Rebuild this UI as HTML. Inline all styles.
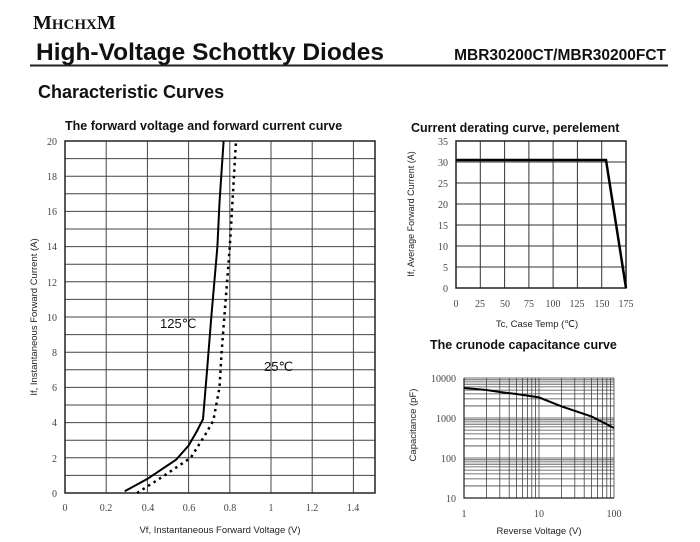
<!DOCTYPE html>
<html><head><meta charset="utf-8"><style>
body{margin:0;background:#fff;width:700px;height:542px;overflow:hidden}
svg{display:block}
.s{font-family:"Liberation Sans",sans-serif}
.r{font-family:"Liberation Serif",serif;font-size:10px;fill:#444}
</style></head><body>
<svg width="700" height="542" viewBox="0 0 700 542">
<text x="33" y="29" font-family="Liberation Serif,serif" font-weight="bold" font-size="20" fill="#111">M<tspan font-size="15">HCHX</tspan>M</text>
<text x="36" y="60" class="s" font-weight="bold" font-size="24.5" fill="#111">High-Voltage Schottky Diodes</text>
<text x="666" y="60" class="s" font-weight="bold" font-size="15.5" fill="#111" text-anchor="end">MBR30200CT/MBR30200FCT</text>
<line x1="30" y1="65.5" x2="668" y2="65.5" stroke="#222" stroke-width="2"/>
<text x="38" y="98" class="s" font-weight="bold" font-size="18" fill="#111">Characteristic Curves</text>

<text x="65" y="130" class="s" font-weight="bold" font-size="12.5" fill="#111">The forward voltage and forward current curve</text>
<g stroke="#444" stroke-width="1">
<path d="M65 158.6H375M65 176.2H375M65 193.8H375M65 211.4H375M65 229H375M65 246.6H375M65 264.2H375M65 281.8H375M65 299.4H375M65 317H375M65 334.6H375M65 352.2H375M65 369.8H375M65 387.4H375M65 405H375M65 422.6H375M65 440.2H375M65 457.8H375M65 475.4H375"/>
<path d="M106.2 141V493M147.4 141V493M188.6 141V493M229.8 141V493M271 141V493M312.2 141V493M353.4 141V493"/>
</g>
<rect x="65" y="141" width="310" height="352" fill="none" stroke="#222" stroke-width="1.5"/>
<g class="r" text-anchor="end">
<text x="57" y="145">20</text><text x="57" y="180">18</text><text x="57" y="215">16</text><text x="57" y="250">14</text><text x="57" y="286">12</text><text x="57" y="321">10</text><text x="57" y="356">8</text><text x="57" y="391">6</text><text x="57" y="426">4</text><text x="57" y="462">2</text><text x="57" y="497">0</text>
</g>
<g class="r" text-anchor="middle">
<text x="65" y="511">0</text><text x="106" y="511">0.2</text><text x="148" y="511">0.4</text><text x="189" y="511">0.6</text><text x="230" y="511">0.8</text><text x="271" y="511">1</text><text x="312" y="511">1.2</text><text x="353" y="511">1.4</text>
</g>
<text x="220" y="533" class="s" font-size="9.5" fill="#222" text-anchor="middle">Vf, Instantaneous Forward Voltage (V)</text>
<text transform="translate(37,317) rotate(-90)" class="s" font-size="9.5" fill="#222" text-anchor="middle">If, Instantaneous Forward Current (A)</text>
<polyline fill="none" stroke="#000" stroke-width="2" points="124.7,491.2 147.4,478.9 176.2,459.6 188.6,445.5 197,431 203,419.1 207.1,369.8 211.3,317 217.4,246.6 219.5,202.6 223.6,141"/>
<polyline fill="none" stroke="#000" stroke-width="2.5" stroke-dasharray="2.5,4" points="137.1,493 161.8,477.2 190.7,457.8 205.1,434.9 213.3,420.8 219.5,387.4 221.6,352.2 225.7,299.4 229.8,246.6 231.9,211.4 236,141"/>
<text x="160" y="328" class="s" font-size="13" fill="#111">125℃</text>
<text x="264" y="371" class="s" font-size="13" fill="#111">25℃</text>

<text x="411" y="132" class="s" font-weight="bold" font-size="12.5" fill="#111">Current derating curve, perelement</text>
<g stroke="#333" stroke-width="1">
<path d="M456 162H626M456 183H626M456 204H626M456 225H626M456 246H626M456 267H626"/>
<path d="M480.3 141V288M504.6 141V288M528.9 141V288M553.1 141V288M577.4 141V288M601.7 141V288"/>
</g>
<rect x="456" y="141" width="170" height="147" fill="none" stroke="#222" stroke-width="1.5"/>
<polyline fill="none" stroke="#000" stroke-width="2.5" points="456,160 606,160 626,288"/>
<g class="r" text-anchor="end">
<text x="448" y="145">35</text><text x="448" y="166">30</text><text x="448" y="187">25</text><text x="448" y="208">20</text><text x="448" y="229">15</text><text x="448" y="250">10</text><text x="448" y="271">5</text><text x="448" y="292">0</text>
</g>
<g class="r" text-anchor="middle">
<text x="456" y="307">0</text><text x="480" y="307">25</text><text x="505" y="307">50</text><text x="529" y="307">75</text><text x="553" y="307">100</text><text x="577" y="307">125</text><text x="602" y="307">150</text><text x="626" y="307">175</text>
</g>
<text x="537" y="327" class="s" font-size="9.5" fill="#222" text-anchor="middle">Tc, Case Temp (℃)</text>
<text transform="translate(414,214) rotate(-90)" class="s" font-size="9" fill="#222" text-anchor="middle">If, Average Forward Current (A)</text>

<text x="430" y="349" class="s" font-weight="bold" font-size="12.5" fill="#111">The crunode capacitance curve</text>
<g stroke="#444" stroke-width="0.8">
<path d="M464 378H614M464 418H614M464 458H614M464 498H614"/>
<path d="M464 485.96H614M464 478.9H614M464 473.9H614M464 470.1H614M464 466.9H614M464 464.2H614M464 461.9H614M464 459.8H614
M464 445.96H614M464 438.9H614M464 433.9H614M464 430.1H614M464 426.9H614M464 424.2H614M464 421.9H614M464 419.8H614
M464 405.96H614M464 398.9H614M464 393.9H614M464 390.1H614M464 386.9H614M464 384.2H614M464 381.9H614M464 379.8H614"/>
<path d="M486.6 378V498M499.8 378V498M509.2 378V498M516.4 378V498M522.4 378V498M527.4 378V498M531.8 378V498M535.6 378V498M539 378V498
M561.6 378V498M574.8 378V498M584.2 378V498M591.4 378V498M597.4 378V498M602.4 378V498M606.8 378V498M610.6 378V498M614 378V498"/>
</g>
<path d="M464 378V498H614" fill="none" stroke="#222" stroke-width="1.2"/>
<polyline fill="none" stroke="#000" stroke-width="2" points="464,388 486.6,390 499.8,392 516.4,394 539,397.4 561.6,406.4 591.4,416.4 614,428"/>
<g class="r" text-anchor="end">
<text x="456" y="382">10000</text><text x="456" y="422">1000</text><text x="456" y="462">100</text><text x="456" y="502">10</text>
</g>
<g class="r" text-anchor="middle">
<text x="464" y="517">1</text><text x="539" y="517">10</text><text x="614" y="517">100</text>
</g>
<text x="539" y="534" class="s" font-size="9.5" fill="#222" text-anchor="middle">Reverse Voltage (V)</text>
<text transform="translate(416,425) rotate(-90)" class="s" font-size="9.5" fill="#222" text-anchor="middle">Capacitance (pF)</text>
</svg>
</body></html>
